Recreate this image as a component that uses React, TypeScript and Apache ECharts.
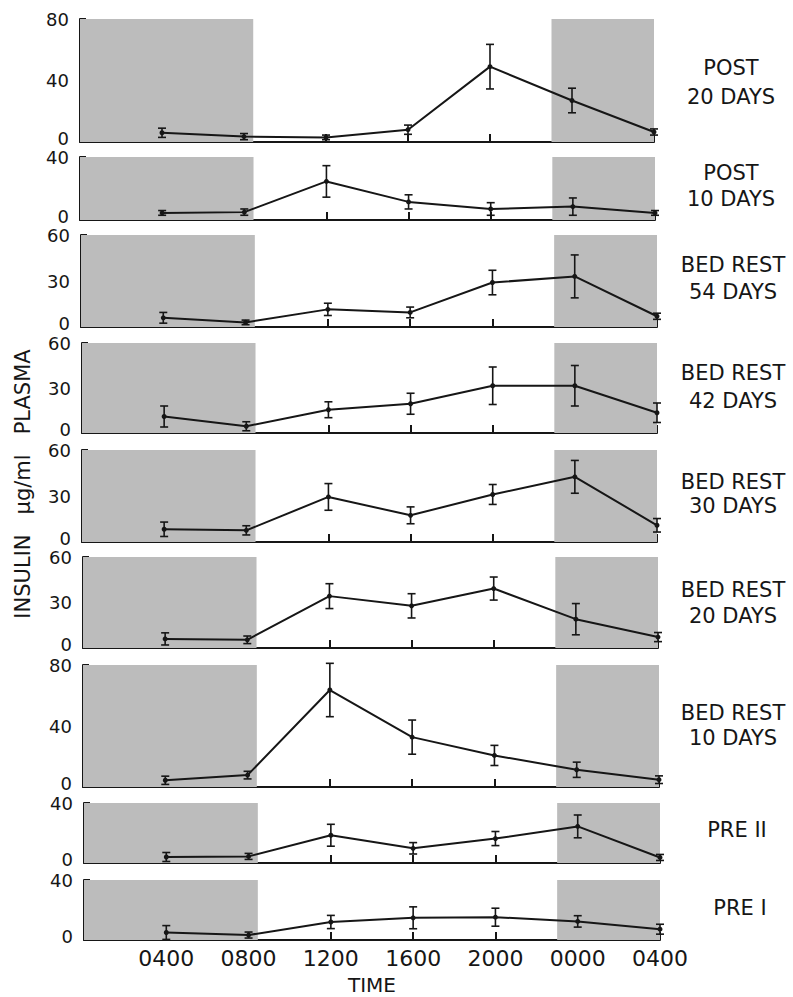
import React, { useEffect, useRef } from "react";
import * as echarts from "echarts";

// ---- data ----
const times = [4, 8, 12, 16, 20, 24, 28];
const timeTickValues = [0, 4, 8, 12, 16, 20, 24, 28];
const timeTickLabels = ["", "0400", "0800", "1200", "1600", "2000", "0000", "0400"];
const darkPeriods = [[0, 8.45], [23, 28]];

const post20 = [6, 3.5, 3, 8, 49, 27, 6.5];
const post20Err = [3, 2, 1.5, 3, 14.5, 8, 2];
const post10 = [4.5, 5, 24.5, 11.5, 7, 8.5, 4.5];
const post10Err = [1.5, 2, 10, 4.5, 4, 5.5, 1.5];
const br54 = [6, 3, 11.5, 9.5, 29, 33, 7];
const br54Err = [3.5, 1.5, 4, 3.5, 8, 14, 2];
const br42 = [11, 4.5, 15.5, 19.5, 31.5, 31.5, 13.5];
const br42Err = [7, 3, 5.3, 7, 12.5, 13.5, 6.5];
const br30 = [8.3, 7.6, 29.4, 17.4, 31, 42.5, 10.9];
const br30Err = [4.7, 3, 8.7, 5.5, 6.5, 10.7, 4.4];
const br20 = [6, 5.4, 34.2, 27.8, 39.2, 19, 7.2];
const br20Err = [4, 2.5, 8.2, 8, 7.6, 10.3, 3];
const br10 = [4.4, 7.8, 63.6, 32.7, 20.7, 11.3, 4.8];
const br10Err = [2.7, 2.5, 17.5, 11.2, 6.6, 5, 2.5];
const pre2 = [4, 4.4, 18.5, 9.8, 16.3, 24.4, 3.7];
const pre2Err = [3, 2, 7.3, 3.8, 4.7, 7.6, 2];
const pre1 = [5, 3.3, 12, 14.8, 15.2, 12.4, 7.2];
const pre1Err = [4.6, 2, 4.4, 7.3, 6, 3.8, 3.3];

const panelValues = [post20, post10, br54, br42, br30, br20, br10, pre2, pre1];
const panelErrors = [post20Err, post10Err, br54Err, br42Err, br30Err, br20Err, br10Err, pre2Err, pre1Err];
const panelMax = [80, 40, 60, 60, 60, 60, 80, 40, 40];
const panelStep = [40, 40, 30, 30, 30, 30, 40, 40, 40];
const panelLabels = [
  ["POST", "20 DAYS"],
  ["POST", "10 DAYS"],
  ["BED REST", "54 DAYS"],
  ["BED REST", "42 DAYS"],
  ["BED REST", "30 DAYS"],
  ["BED REST", "20 DAYS"],
  ["BED REST", "10 DAYS"],
  ["PRE II"],
  ["PRE I"],
];
const yTitle = "INSULIN   \u03BCg/ml   PLASMA";
const xTitle = "TIME";

// ---- layout (pixels) ----
const W = 793;
const H = 997;
const gridTop = [19, 157, 235, 343, 450, 557, 665, 803, 880];
const gridBottom = [142, 220, 327, 433, 542, 648, 787, 863, 940];
const gridLeft = [80, 80, 81, 82, 82, 83, 83, 84, 84];
const gridRightEdge = [654, 655, 657, 657, 657, 658, 659, 660, 660];
const labelY = [[68, 97], [173, 199], [265, 292], [373, 401], [482, 506], [590, 616], [713, 738], [830], [908]];
const labelX = [731, 731, 733, 733, 733, 733, 733, 737, 740];

const FONT = "DejaVu Sans";
const INK = "#161616";
const SHADE = "#bcbcbc";
const Y_FONT = 18;

export default function App() {
  const ref = useRef<HTMLDivElement>(null);
  useEffect(() => {
    if (!ref.current) return;
    const chart = echarts.init(ref.current, undefined, { renderer: "svg" });
    const n = panelValues.length;
    const grids: any[] = [];
    const xAxes: any[] = [];
    const yAxes: any[] = [];
    const series: any[] = [];
    const graphics: any[] = [];
    for (let i = 0; i < n; i++) {
      grids.push({
        left: gridLeft[i],
        right: W - gridRightEdge[i],
        top: gridTop[i],
        height: gridBottom[i] - gridTop[i],
        containLabel: false,
      });
      const last = i === n - 1;
      xAxes.push({
        gridIndex: i,
        type: "value",
        min: 0,
        max: 28,
        interval: 4,
        axisLine: { show: true, lineStyle: { color: INK, width: 2 } },
        axisTick: { show: true, inside: true, length: 8, lineStyle: { color: INK, width: 2 } },
        splitLine: { show: false },
        axisLabel: {
          show: last,
          margin: 7,
          color: INK,
          fontFamily: FONT,
          fontSize: 22,
          formatter: (v: number) => {
            const k = timeTickValues.indexOf(v);
            return k >= 0 ? timeTickLabels[k] : "";
          },
        },
      });
      yAxes.push({
        gridIndex: i,
        type: "value",
        min: 0,
        max: panelMax[i],
        interval: panelStep[i],
        axisLine: { show: true, lineStyle: { color: INK, width: 2 } },
        axisTick: { show: true, inside: true, length: 6, lineStyle: { color: INK, width: 2 } },
        splitLine: { show: false },
        axisLabel: {
          show: true,
          margin: 11,
          color: INK,
          fontFamily: FONT,
          fontSize: Y_FONT,
          formatter: (v: number) => (v === 0 ? "{z|0}" : "{n|" + v + "}"),
          rich: {
            z: { fontFamily: FONT, fontSize: Y_FONT, color: INK, padding: [0, 0, 8, 0] },
            n: { fontFamily: FONT, fontSize: Y_FONT, color: INK },
          },
        },
      });
      const vals = panelValues[i];
      const errs = panelErrors[i];
      series.push({
        type: "line",
        xAxisIndex: i,
        yAxisIndex: i,
        data: times.map((t, k) => [t, vals[k]]),
        symbol: "circle",
        symbolSize: 5,
        itemStyle: { color: INK },
        lineStyle: { color: INK, width: 2 },
        z: 5,
        markArea: {
          silent: true,
          itemStyle: { color: SHADE },
          data: darkPeriods.map((p) => [{ xAxis: p[0] }, { xAxis: p[1] }]),
        },
      });
      series.push({
        type: "custom",
        xAxisIndex: i,
        yAxisIndex: i,
        z: 6,
        data: times.map((t, k) => [t, Math.max(0, vals[k] - errs[k]), vals[k] + errs[k]]),
        encode: { x: 0, y: [1, 2] },
        renderItem: (params: any, api: any) => {
          const x = api.value(0);
          const lo = api.coord([x, api.value(1)]);
          const hi = api.coord([x, api.value(2)]);
          const cap = 4;
          const style = { stroke: INK, lineWidth: 1.6 };
          return {
            type: "group",
            children: [
              { type: "line", shape: { x1: lo[0], y1: lo[1], x2: hi[0], y2: hi[1] }, style },
              { type: "line", shape: { x1: lo[0] - cap, y1: lo[1], x2: lo[0] + cap, y2: lo[1] }, style },
              { type: "line", shape: { x1: hi[0] - cap, y1: hi[1], x2: hi[0] + cap, y2: hi[1] }, style },
            ],
          };
        },
      });
      panelLabels[i].forEach((txt, j) => {
        graphics.push({
          type: "text",
          x: labelX[i],
          y: labelY[i][j],
          style: {
            text: txt,
            fill: INK,
            font: `21px "${FONT}"`,
            textAlign: "center",
            textVerticalAlign: "middle",
          },
        });
      });
    }
    graphics.push({
      type: "text",
      x: 23,
      y: 484,
      rotation: Math.PI / 2,
      style: {
        text: yTitle,
        fill: INK,
        font: `21px "${FONT}"`,
        textAlign: "center",
        textVerticalAlign: "middle",
      },
    });
    graphics.push({
      type: "text",
      x: 372,
      y: 985,
      style: {
        text: xTitle,
        fill: INK,
        font: `20px "${FONT}"`,
        textAlign: "center",
        textVerticalAlign: "middle",
      },
    });
    chart.setOption({
      animation: false,
      backgroundColor: "#ffffff",
      grid: grids,
      xAxis: xAxes,
      yAxis: yAxes,
      series,
      graphic: graphics,
    });
    return () => chart.dispose();
  }, []);
  return (
    <div
      ref={ref}
      style={{ position: "fixed", left: 0, top: 0, width: W, height: H }}
    />
  );
}
